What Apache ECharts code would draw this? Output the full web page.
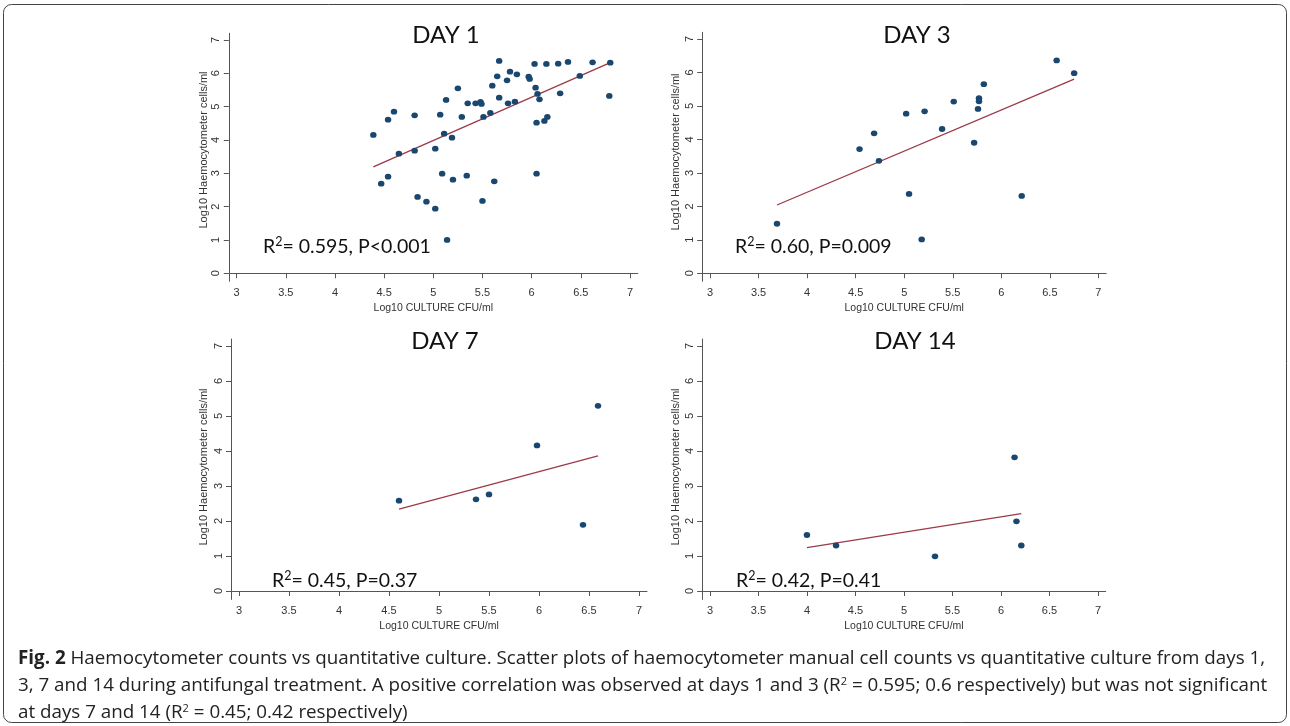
<!DOCTYPE html>
<html>
<head>
<meta charset="utf-8">
<script src="https://cdn.jsdelivr.net/npm/echarts@6/dist/echarts.min.js"></script>
<style>html,body{margin:0;padding:0;background:#fff;}#c{width:1290px;height:726px;}</style>
</head>
<body>
<div id="c"></div>
<script>
// ---- data ----
const xTickValues = [3, 3.5, 4, 4.5, 5, 5.5, 6, 6.5, 7];
const yTickValues = [0, 1, 2, 3, 4, 5, 6, 7];
const panelTitles = ['DAY 1', 'DAY 3', 'DAY 7', 'DAY 14'];
const statLabels = [['0.595', 'P<0.001'], ['0.60', 'P=0.009'], ['0.45', 'P=0.37'], ['0.42', 'P=0.41']];
const xAxisName = 'Log10 CULTURE CFU/ml';
const yAxisName = 'Log10 Haemocytometer cells/ml';

const day1Culture = [4.39, 4.54, 4.60, 4.54, 4.47, 4.65, 4.81, 4.81, 4.84, 4.93, 5.02, 5.02, 5.07, 5.11, 5.13,
  5.09, 5.20, 5.19, 5.14, 5.25, 5.29, 5.35, 5.34, 5.43, 5.48, 5.49, 5.51, 5.50, 5.58, 5.60, 5.62, 5.65, 5.67,
  5.67, 5.75, 5.76, 5.78, 5.85, 5.83, 6.03, 6.15, 6.27, 6.37, 6.62, 6.80, 5.97, 5.98, 6.49, 6.04, 6.06, 6.08,
  6.29, 6.79, 6.05, 6.13, 6.16, 6.05];
const day1Haemo = [4.15, 4.61, 4.85, 2.90, 2.69, 3.59, 4.74, 3.68, 2.29, 2.15, 1.94, 3.74, 4.76, 4.19, 5.20,
  2.99, 2.81, 4.07, 1.00, 5.55, 4.69, 5.10, 2.93, 5.10, 5.14, 5.08, 4.69, 2.17, 4.81, 5.63, 2.76, 5.91, 6.37,
  5.27, 5.79, 5.10, 6.05, 5.97, 5.15, 6.28, 6.28, 6.29, 6.34, 6.33, 6.32, 5.90, 5.83, 5.92, 5.57, 5.38, 5.22,
  5.40, 5.32, 4.52, 4.57, 4.69, 2.99];
const day1FitX = [4.39, 6.80];
const day1FitY = [3.19, 6.32];

const day3Culture = [3.69, 4.54, 4.69, 4.74, 5.02, 5.05, 5.18, 5.21, 5.39, 5.51, 5.72, 5.76, 5.77, 5.77, 5.82, 6.21, 6.57, 6.75];
const day3Haemo = [1.48, 3.71, 4.18, 3.36, 4.77, 2.37, 1.01, 4.84, 4.31, 5.13, 3.90, 4.91, 5.23, 5.14, 5.65, 2.31, 6.36, 5.98];
const day3FitX = [3.69, 6.75];
const day3FitY = [2.04, 5.80];

const day7Culture = [4.60, 5.37, 5.50, 5.98, 6.44, 6.59];
const day7Haemo = [2.58, 2.62, 2.76, 4.16, 1.89, 5.29];
const day7FitX = [4.60, 6.59];
const day7FitY = [2.34, 3.86];

const day14Culture = [4.00, 4.30, 5.32, 6.14, 6.16, 6.21];
const day14Haemo = [1.60, 1.30, 0.99, 3.82, 1.99, 1.30];
const day14FitX = [4.00, 6.21];
const day14FitY = [1.24, 2.21];

const captionLines = [
  ['Fig. 2', ' Haemocytometer counts vs quantitative culture. Scatter plots of haemocytometer manual cell counts vs quantitative culture from days 1,'],
  ['3, 7 and 14 during antifungal treatment. A positive correlation was observed at days 1 and 3 (R', '2', ' = 0.595; 0.6 respectively) but was not significant'],
  ['at days 7 and 14 (R', '2', ' = 0.45; 0.42 respectively)']
];

// ---- layout ----
const X_MIN = 2.92, X_MAX = 7.08, Y_MIN = -0.24, Y_MAX = 7.2;
const panels = [
  { left: 228.8, width: 409, top: 33.3, height: 248, cx: 446, ty: 35, sx: 263, sy: 247, nameX: 204, nameY: 150,
    xs: day1Culture, ys: day1Haemo, fx: day1FitX, fy: day1FitY },
  { left: 702.2, width: 404, top: 32.3, height: 249, cx: 917, ty: 35, sx: 735, sy: 247, nameX: 676, nameY: 152,
    xs: day3Culture, ys: day3Haemo, fx: day3FitX, fy: day3FitY },
  { left: 231, width: 416, top: 339, height: 260.4, cx: 445, ty: 341, sx: 272, sy: 581, nameX: 204, nameY: 467,
    xs: day7Culture, ys: day7Haemo, fx: day7FitX, fy: day7FitY },
  { left: 702.2, width: 403.5, top: 339, height: 260.4, cx: 915, ty: 341, sx: 736, sy: 581, nameX: 676, nameY: 467,
    xs: day14Culture, ys: day14Haemo, fx: day14FitX, fy: day14FitY }
];

const axisColor = '#555';
const labelColor = '#333';
const dotColor = '#1a476f';
const fitColor = '#9b3a48';

const grids = [], xAxes = [], yAxes = [], series = [], graphics = [];
panels.forEach((p, i) => {
  grids.push({ left: p.left, top: p.top, width: p.width, height: p.height, containLabel: false });
  xAxes.push({
    type: 'value', gridIndex: i, min: X_MIN, max: X_MAX,
    name: xAxisName, nameLocation: 'middle', nameGap: 21,
    nameTextStyle: { fontFamily: 'Liberation Sans', fontSize: 10.5, color: labelColor },
    axisLine: { show: true, lineStyle: { color: axisColor, width: 1 } },
    axisTick: { show: true, length: 5, inside: false, customValues: xTickValues, lineStyle: { color: axisColor } },
    axisLabel: { customValues: xTickValues, margin: 6, fontFamily: 'Liberation Sans', fontSize: 11, color: labelColor,
      formatter: v => String(v) },
    splitLine: { show: false }
  });
  yAxes.push({
    type: 'value', gridIndex: i, min: Y_MIN, max: Y_MAX,
    axisLine: { show: true, lineStyle: { color: axisColor, width: 1 } },
    axisTick: { show: true, length: 5, customValues: yTickValues, lineStyle: { color: axisColor } },
    axisLabel: { customValues: yTickValues, rotate: 90, margin: 7, fontFamily: 'Liberation Sans', fontSize: 11, color: labelColor,
      formatter: v => String(v) },
    splitLine: { show: false }
  });
  series.push({
    type: 'line', xAxisIndex: i, yAxisIndex: i, data: p.fx.map((x, k) => [x, p.fy[k]]),
    symbol: 'none', lineStyle: { color: fitColor, width: 1.3 }, silent: true, z: 2
  });
  series.push({
    type: 'scatter', xAxisIndex: i, yAxisIndex: i, data: p.xs.map((x, k) => [x, p.ys[k]]),
    symbol: 'circle', symbolSize: [6.5, 5.8], itemStyle: { color: dotColor, opacity: 1 }, z: 3
  });
  graphics.push({
    type: 'text', x: p.cx, y: p.ty,
    style: { text: panelTitles[i], fontFamily: 'Lato', fontSize: 24, fill: '#111', align: 'center', verticalAlign: 'middle' }
  });
  graphics.push({
    type: 'text', x: p.sx, y: p.sy,
    style: {
      text: '{a|R}{s|2}{a|= ' + statLabels[i][0] + ', ' + statLabels[i][1] + '}',
      verticalAlign: 'middle', align: 'left',
      rich: {
        a: { fontFamily: 'Lato', fontSize: 19.5, fill: '#111', lineHeight: 24 },
        s: { fontFamily: 'Lato', fontSize: 12.5, fill: '#111', lineHeight: 24, verticalAlign: 'top', padding: [0, 0, 6, 0] }
      }
    }
  });
  graphics.push({
    type: 'text', x: p.nameX, y: p.nameY, rotation: Math.PI / 2,
    style: { text: yAxisName, fontFamily: 'Liberation Sans', fontSize: 11, fill: labelColor, align: 'center', verticalAlign: 'middle' }
  });
});

// border
graphics.push({
  type: 'rect', shape: { x: 3.5, y: 4.5, width: 1283, height: 718, r: 8 },
  style: { fill: 'none', stroke: '#444', lineWidth: 1 }, z: -1
});

// caption
const capRich = {
  b: { fontFamily: 'Open Sans', fontWeight: 'bold', fontSize: 18.8, fill: '#222' },
  n: { fontFamily: 'Open Sans', fontSize: 18.8, fill: '#222' },
  s: { fontFamily: 'Open Sans', fontSize: 11, fill: '#222', verticalAlign: 'top', padding: [0, 0, 9, 0] }
};
const capY = [659, 686, 713];
graphics.push({ type: 'text', x: 18, y: capY[0], style: { text: '{b|' + captionLines[0][0] + '}{n|' + captionLines[0][1] + '}', rich: capRich, verticalAlign: 'middle' } });
graphics.push({ type: 'text', x: 18, y: capY[1], style: { text: '{n|' + captionLines[1][0] + '}{s|' + captionLines[1][1] + '}{n|' + captionLines[1][2] + '}', rich: capRich, verticalAlign: 'middle' } });
graphics.push({ type: 'text', x: 18, y: capY[2], style: { text: '{n|' + captionLines[2][0] + '}{s|' + captionLines[2][1] + '}{n|' + captionLines[2][2] + '}', rich: capRich, verticalAlign: 'middle' } });

const chart = echarts.init(document.getElementById('c'), null, { renderer: 'canvas' });
chart.setOption({
  animation: false,
  backgroundColor: '#fff',
  grid: grids, xAxis: xAxes, yAxis: yAxes, series: series, graphic: graphics
});
</script>
</body>
</html>
